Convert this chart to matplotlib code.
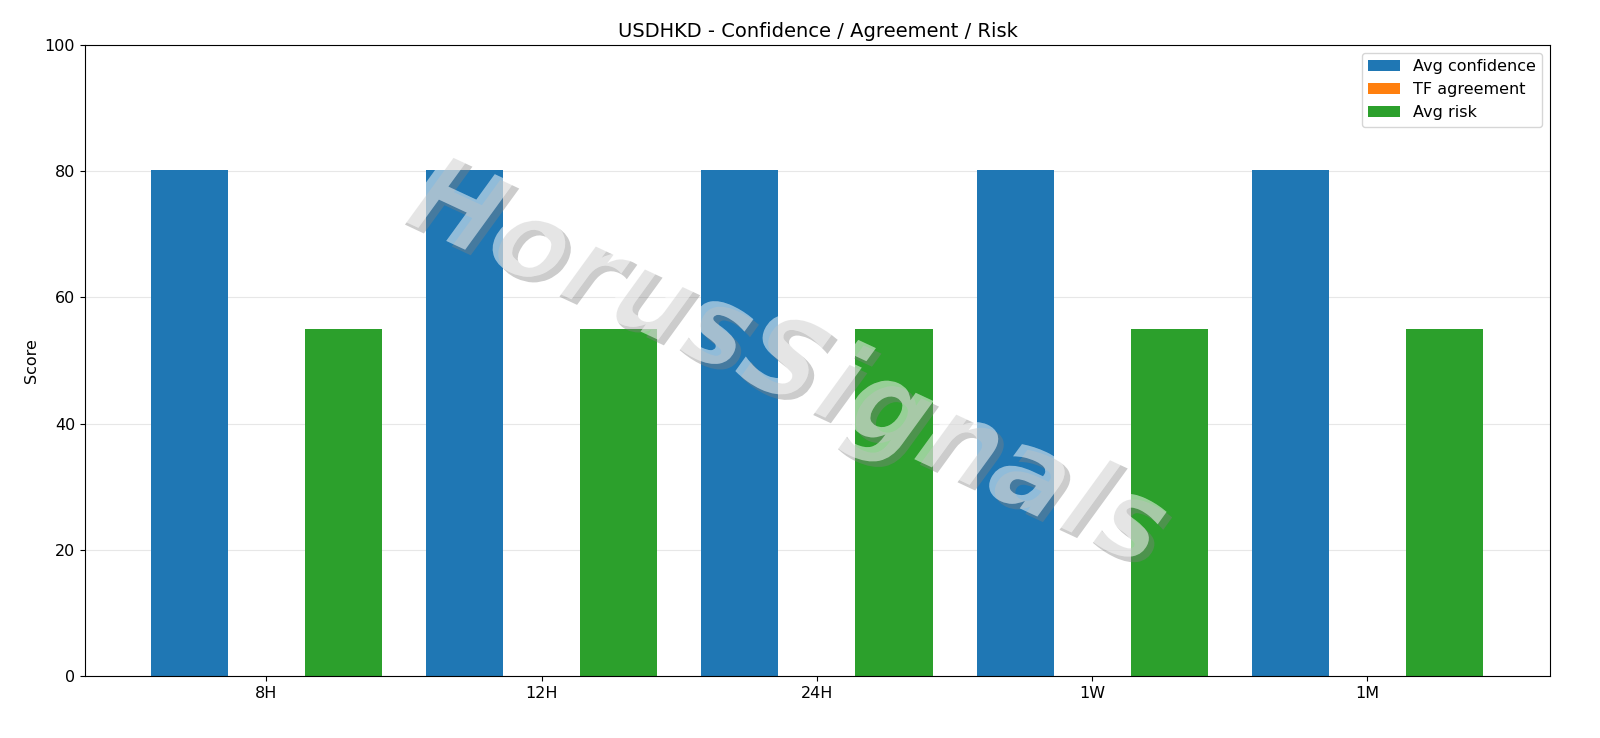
import matplotlib
matplotlib.use("Agg")
import matplotlib.pyplot as plt
import matplotlib.patheffects as pe
import numpy as np

timeframes = ["8H", "12H", "24H", "1W", "1M"]
avg_confidence = [80.2, 80.2, 80.2, 80.2, 80.2]
tf_agreement = [0, 0, 0, 0, 0]
avg_risk = [55, 55, 55, 55, 55]

fig = plt.figure(figsize=(16, 7.38), dpi=100)
ax = fig.add_axes([0.053, 0.084, 0.916, 0.855])
x = np.arange(len(timeframes))
w = 0.28
ax.bar(x - w, avg_confidence, w, label="Avg confidence", color="#1f77b4")
ax.bar(x, tf_agreement, w, label="TF agreement", color="#ff7f0e")
ax.bar(x + w, avg_risk, w, label="Avg risk", color="#2ca02c")
ax.set_xticks(x)
ax.set_xticklabels(timeframes)
ax.set_ylim(0, 100)
ax.set_xlim(-0.66, 4.665)
ax.set_ylabel("Score")
ax.set_title("USDHKD - Confidence / Agreement / Risk", fontsize=14)
ax.grid(axis="y", alpha=0.3)
ax.set_axisbelow(True)
ax.legend(loc="upper right", fontsize=11.5)
ax.tick_params(labelsize=11.5)
ax.yaxis.label.set_size(11.5)

fig.text(0.49, 0.505, "HorusSignals", fontsize=80, color="white", alpha=0.3,
         rotation=-25, ha="center", va="center", style="italic", weight="semibold",
         path_effects=[pe.withSimplePatchShadow(offset=(4, -4), shadow_rgbFace="grey", alpha=0.4), pe.Normal()])

fig.savefig("out.png", dpi=100)
